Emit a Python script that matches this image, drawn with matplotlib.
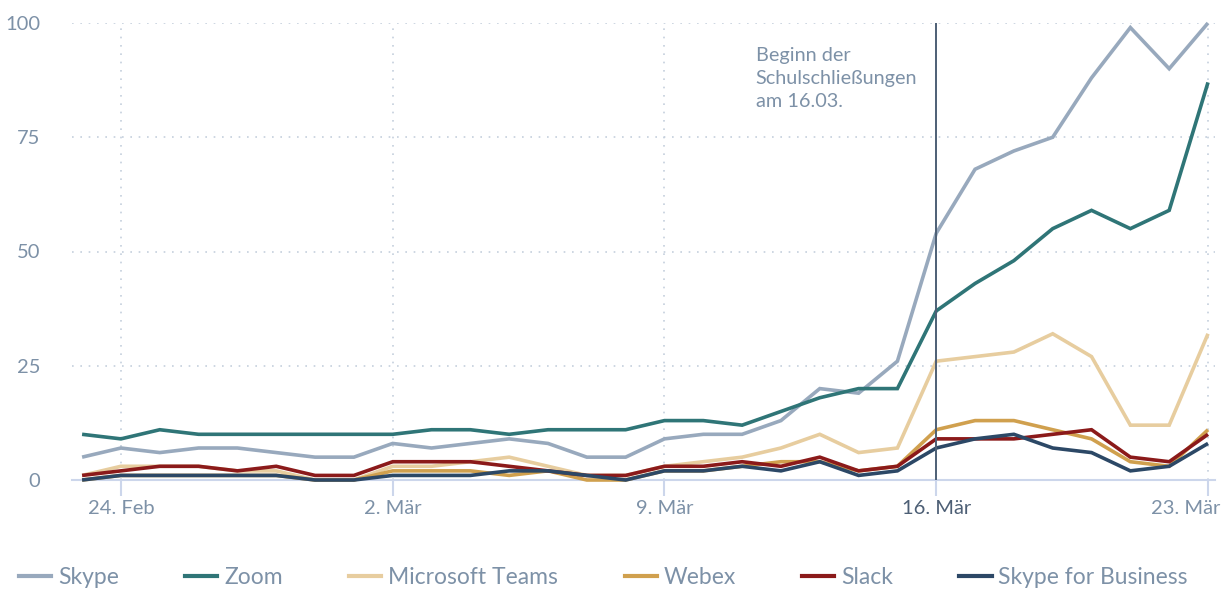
import matplotlib
matplotlib.use("Agg")
import matplotlib.pyplot as plt
from matplotlib.lines import Line2D
import matplotlib.transforms as mtransforms

plt.rcParams['font.family'] = ['Lato', 'DejaVu Sans']

dates = ["23.02", "24.02", "25.02", "26.02", "27.02", "28.02", "29.02",
         "01.03", "02.03", "03.03", "04.03", "05.03", "06.03", "07.03",
         "08.03", "09.03", "10.03", "11.03", "12.03", "13.03", "14.03",
         "15.03", "16.03", "17.03", "18.03", "19.03", "20.03", "21.03",
         "22.03", "23.03"]

skype = [5, 7, 6, 7, 7, 6, 5, 5, 8, 7, 8, 9, 8, 5, 5, 9, 10, 10, 13, 20,
         19, 26, 54, 68, 72, 75, 88, 99, 90, 100]
zoom = [10, 9, 11, 10, 10, 10, 10, 10, 10, 11, 11, 10, 11, 11, 11, 13, 13,
        12, 15, 18, 20, 20, 37, 43, 48, 55, 59, 55, 59, 87]
teams = [1, 3, 3, 3, 2, 2, 0, 0, 3, 3, 4, 5, 3, 1, 1, 3, 4, 5, 7, 10, 6, 7,
         26, 27, 28, 32, 27, 12, 12, 32]
webex = [0, 1, 1, 1, 1, 1, 0, 0, 2, 2, 2, 1, 2, 0, 0, 2, 2, 3, 4, 4, 2, 3,
         11, 13, 13, 11, 9, 4, 3, 11]
slack = [1, 2, 3, 3, 2, 3, 1, 1, 4, 4, 4, 3, 2, 1, 1, 3, 3, 4, 3, 5, 2, 3,
         9, 9, 9, 10, 11, 5, 4, 10]
sfb = [0, 1, 1, 1, 1, 1, 0, 0, 1, 1, 1, 2, 2, 1, 0, 2, 2, 3, 2, 4, 1, 2,
       7, 9, 10, 7, 6, 2, 3, 8]

series_names = ["Skype", "Zoom", "Microsoft Teams", "Webex", "Slack",
                "Skype for Business"]
series_values = [skype, zoom, teams, webex, slack, sfb]
colors = ["#98a9bd", "#2f7577", "#e7cd9f", "#d0a04e", "#8b1a1a", "#2c4866"]

tick_labels = ["24. Feb", "2. Mär", "9. Mär", "16. Mär", "23. Mär"]
tick_dates = ["24.02", "02.03", "09.03", "16.03", "23.03"]
yticks = [0, 25, 50, 75, 100]
event_date = "16.03"
event_text = "Beginn der\nSchulschließungen\nam 16.03."

W, H = 1226, 593
fig = plt.figure(figsize=(W / 100, H / 100), dpi=100)
ax = fig.add_axes([72 / W, 1 - 480 / H, (1215 - 72) / W, (480 - 23) / H])

x = list(range(len(dates)))
for name, vals, c in zip(series_names, series_values, colors):
    ax.plot(x, vals, color=c, lw=2.6, solid_joinstyle='miter',
            solid_capstyle='butt', clip_on=False, zorder=3)

ax.set_ylim(0, 100)
ax.set_xlim(-0.26, 29.18)

text_col = "#7d91a7"
grid_col = "#c5d0dd"

for yv in yticks[1:]:
    ax.axhline(yv, color=grid_col, lw=1.2, ls=(0, (1, 4)), zorder=1)

tick_pos = [dates.index(d) for d in tick_dates]
ev = dates.index(event_date)
for p in tick_pos:
    if p != ev:
        ax.axvline(p, color=grid_col, lw=1.2, ls=(0, (1, 4)), zorder=1)

ax.axvline(ev, color="#4d5f75", lw=1.4, zorder=4)
ax.text(ev - 4.65, 94.8, event_text, color=text_col, fontsize=14.3,
        va='top', ha='left', linespacing=1.45)

for s in ["top", "right", "left"]:
    ax.spines[s].set_visible(False)
ax.spines["bottom"].set_color("#ccd6eb")
ax.spines["bottom"].set_linewidth(1.5)

ax.set_yticks(yticks)
ax.set_yticklabels([str(v) for v in yticks])
ax.tick_params(axis='y', length=0, pad=23, labelsize=14.5, labelcolor=text_col)

ax.set_xticks(tick_pos)
ax.set_xticklabels(tick_labels)
ax.tick_params(axis='x', length=11.5, width=1.5, color="#ccd6eb", pad=3,
               labelsize=14.5, labelcolor=text_col)
xlabels = ax.get_xticklabels()
for lbl, d in zip(xlabels, tick_dates):
    if d == event_date:
        lbl.set_color("#4d5f75")
last = xlabels[-1]
last.set_horizontalalignment('right')
last.set_transform(last.get_transform() +
                   mtransforms.ScaledTranslation(12 / 100, 0, fig.dpi_scale_trans))

handles = [Line2D([0], [0], color=c, lw=3) for c in colors]
fig.legend(handles, series_names, loc='center left',
           bbox_to_anchor=(12 / W, 1 - 578 / H), ncol=6, frameon=False,
           fontsize=16.5, labelcolor=text_col, handlelength=1.4,
           handletextpad=0.3, columnspacing=2.9, borderaxespad=0,
           borderpad=0.3)

fig.savefig("out.png", dpi=100)
